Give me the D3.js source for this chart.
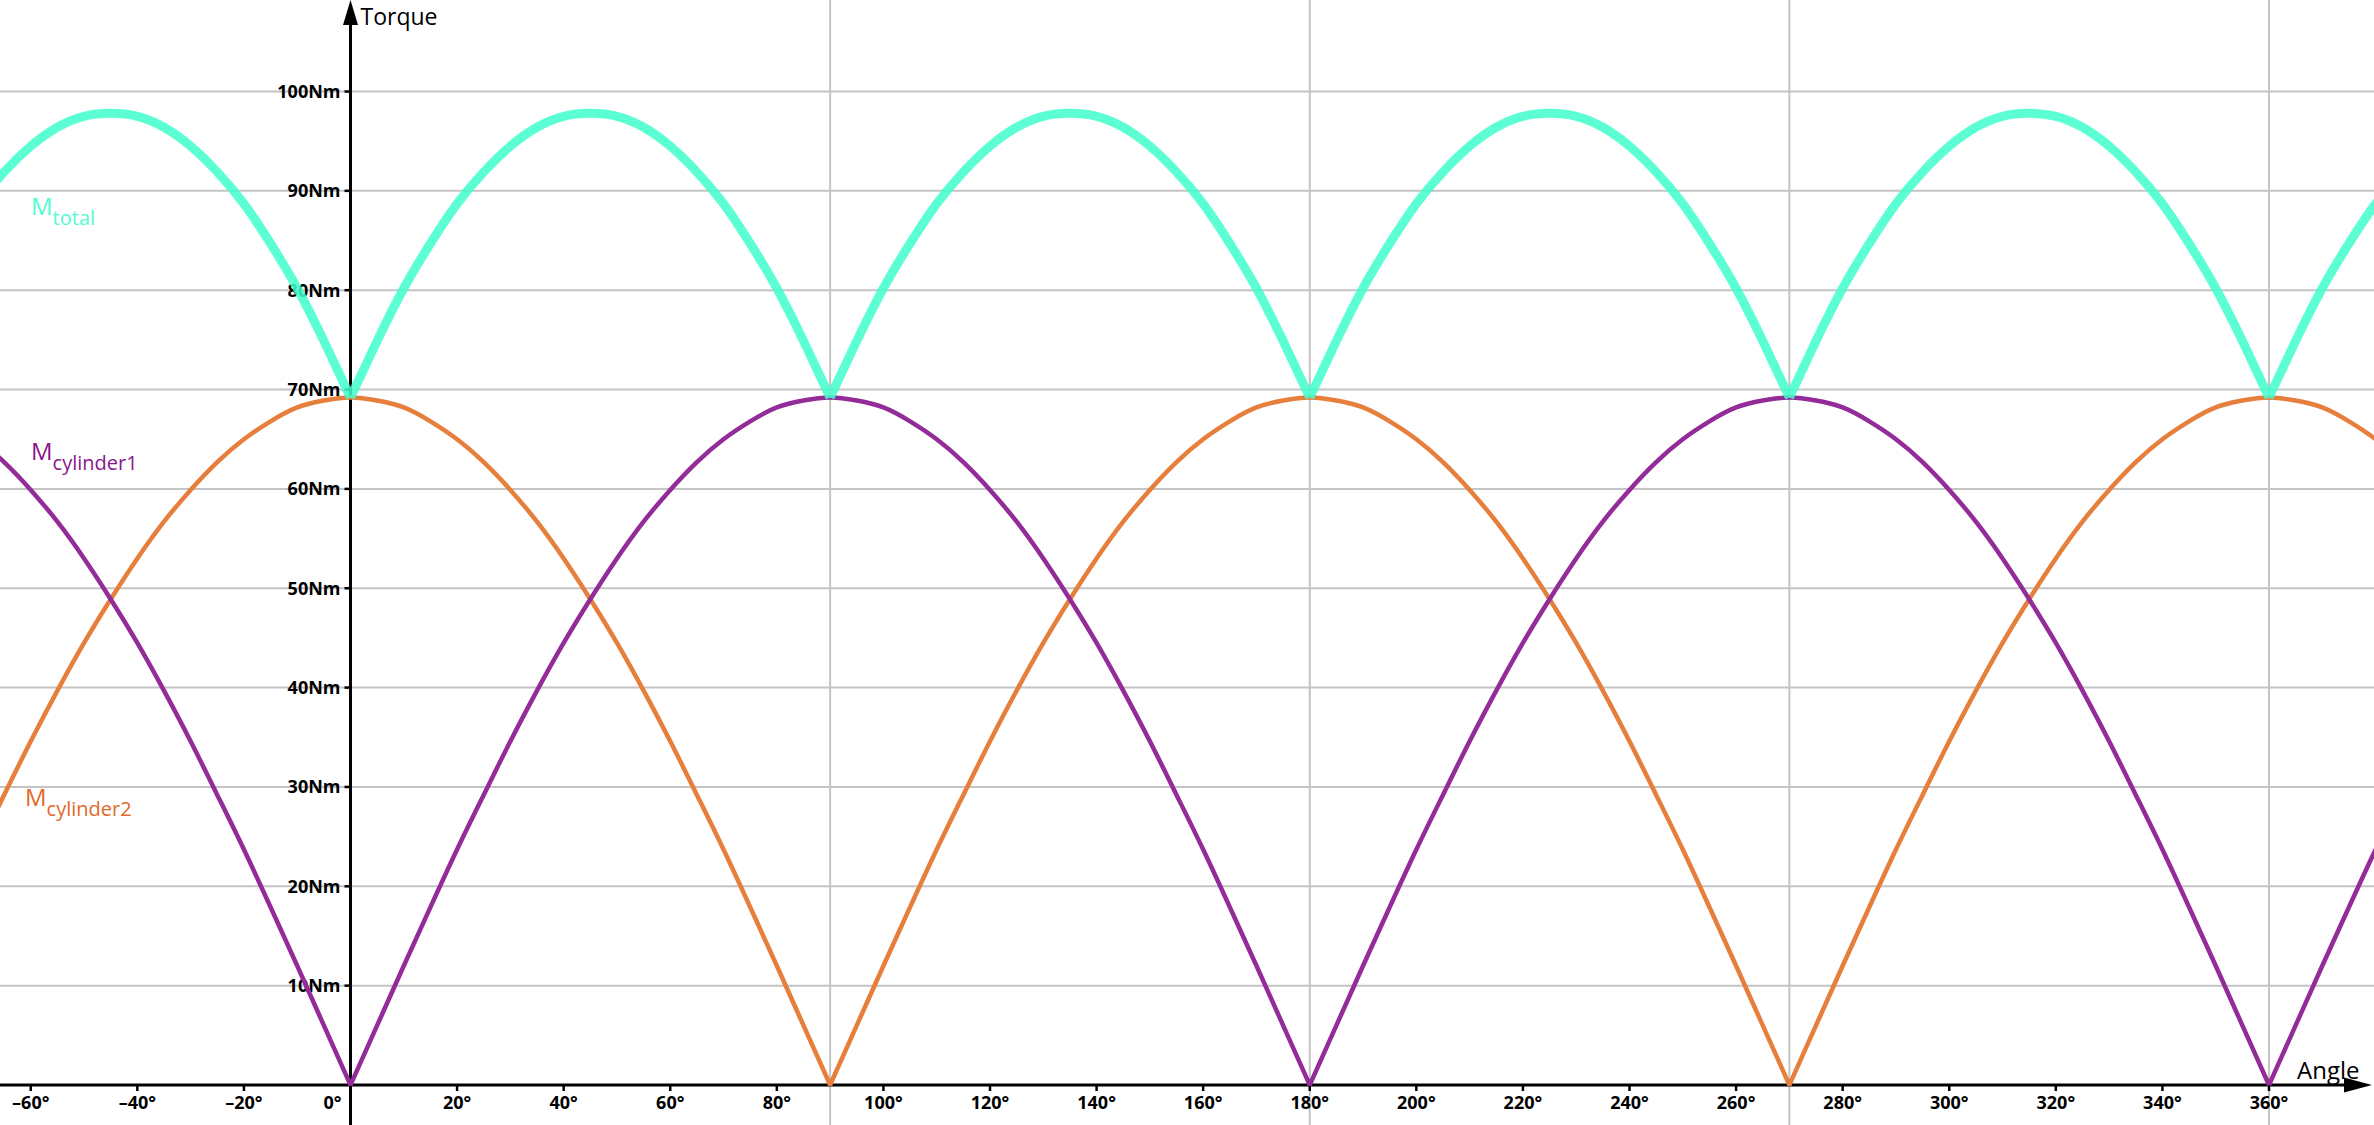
<!DOCTYPE html>
<html>
<head>
<meta charset="utf-8">
<script src="https://cdn.jsdelivr.net/npm/d3@7"></script>
<style>
  html, body { margin: 0; padding: 0; background: #fff; }
  svg { display: block; }
  text { font-family: "Open Sans", "Noto Sans", sans-serif; }
</style>
</head>
<body>
<svg id="chart" width="2374" height="1125"></svg>
<script>
// ---- data (angle in degrees, torque in Nm) ----
const angles = [-70,-65,-60,-55,-50,-45,-40,-35,-30,-25,-20,-15,-10,-5,
  0,5,10,15,20,25,30,35,40,45,50,55,60,65,70,75,80,85,
  90,95,100,105,110,115,120,125,130,135,140,145,150,155,160,165,170,175,
  180,185,190,195,200,205,210,215,220,225,230,235,240,245,250,255,260,265,
  270,275,280,285,290,295,300,305,310,315,320,325,330,335,340,345,350,355,
  360,365,370,375,380,385];

const cylinder1 = [65.0,62.7,59.9,56.7,53.0,48.9,44.5,39.7,34.6,29.2,23.7,17.9,12.0,6.0,
  0,6.0,12.0,17.9,23.7,29.2,34.6,39.7,44.5,48.9,53.0,56.7,59.9,62.7,65.0,66.8,68.2,68.9,
  69.2,68.9,68.2,66.8,65.0,62.7,59.9,56.7,53.0,48.9,44.5,39.7,34.6,29.2,23.7,17.9,12.0,6.0,
  0,6.0,12.0,17.9,23.7,29.2,34.6,39.7,44.5,48.9,53.0,56.7,59.9,62.7,65.0,66.8,68.2,68.9,
  69.2,68.9,68.2,66.8,65.0,62.7,59.9,56.7,53.0,48.9,44.5,39.7,34.6,29.2,23.7,17.9,12.0,6.0,
  0,6.0,12.0,17.9,23.7,29.2];

const cylinder2 = [23.7,29.2,34.6,39.7,44.5,48.9,53.0,56.7,59.9,62.7,65.0,66.8,68.2,68.9,
  69.2,68.9,68.2,66.8,65.0,62.7,59.9,56.7,53.0,48.9,44.5,39.7,34.6,29.2,23.7,17.9,12.0,6.0,
  0,6.0,12.0,17.9,23.7,29.2,34.6,39.7,44.5,48.9,53.0,56.7,59.9,62.7,65.0,66.8,68.2,68.9,
  69.2,68.9,68.2,66.8,65.0,62.7,59.9,56.7,53.0,48.9,44.5,39.7,34.6,29.2,23.7,17.9,12.0,6.0,
  0,6.0,12.0,17.9,23.7,29.2,34.6,39.7,44.5,48.9,53.0,56.7,59.9,62.7,65.0,66.8,68.2,68.9,
  69.2,68.9,68.2,66.8,65.0,62.7];

const total = [88.7,91.9,94.5,96.4,97.5,97.8,97.5,96.4,94.5,91.9,88.7,84.7,80.2,74.9,
  69.2,74.9,80.2,84.7,88.7,91.9,94.5,96.4,97.5,97.8,97.5,96.4,94.5,91.9,88.7,84.7,80.2,74.9,
  69.2,74.9,80.2,84.7,88.7,91.9,94.5,96.4,97.5,97.8,97.5,96.4,94.5,91.9,88.7,84.7,80.2,74.9,
  69.2,74.9,80.2,84.7,88.7,91.9,94.5,96.4,97.5,97.8,97.5,96.4,94.5,91.9,88.7,84.7,80.2,74.9,
  69.2,74.9,80.2,84.7,88.7,91.9,94.5,96.4,97.5,97.8,97.5,96.4,94.5,91.9,88.7,84.7,80.2,74.9,
  69.2,74.9,80.2,84.7,88.7,91.9];

const xTicks = [-60,-40,-20,0,20,40,60,80,100,120,140,160,180,200,220,240,260,280,300,320,340,360];
const xGrid = [90,180,270,360];
const yTicks = [10,20,30,40,50,60,70,80,90,100];

const seriesNames = ["cylinder2", "cylinder1", "total"];
const seriesLabels = ["cylinder2", "cylinder1", "total"];

// ---- layout ----
const W = 2374, H = 1125;
const svg = d3.select("#chart");

const x = d3.scaleLinear().domain([0, 360]).range([350.5, 2269]);
const y = d3.scaleLinear().domain([0, 100]).range([1085, 91.5]);

const colors = {
  total: { line: "#40ffcc", text: "#52fcd0", width: 9, opacity: 0.85 },
  cylinder1: { line: "#932b98", text: "#8a168a", width: 4.5, opacity: 1 },
  cylinder2: { line: "#e67e3c", text: "#e2692a", width: 4.5, opacity: 1 }
};

// grid
const grid = svg.append("g");
grid.selectAll("line.h").data(yTicks).join("line")
  .attr("x1", 0).attr("x2", W)
  .attr("y1", d => y(d)).attr("y2", d => y(d))
  .attr("stroke", "#c4c4c4").attr("stroke-width", 2);
grid.selectAll("line.v").data(xGrid).join("line")
  .attr("x1", d => x(d)).attr("x2", d => x(d))
  .attr("y1", 0).attr("y2", H)
  .attr("stroke", "#c4c4c4").attr("stroke-width", 2);

// axes
const ax = svg.append("g");
const x0 = x(0), y0 = y(0);
ax.append("line").attr("x1", 0).attr("x2", W - 20).attr("y1", y0).attr("y2", y0)
  .attr("stroke", "#000").attr("stroke-width", 3);
ax.append("path").attr("d", `M${W - 2},${y0} L${W - 30},${y0 - 7.5} L${W - 30},${y0 + 7.5} Z`).attr("fill", "#000");
ax.append("line").attr("x1", x0).attr("x2", x0).attr("y1", H).attr("y2", 20)
  .attr("stroke", "#000").attr("stroke-width", 3);
ax.append("path").attr("d", `M${x0},0 L${x0 - 7.5},25 L${x0 + 7.5},25 Z`).attr("fill", "#000");

// x ticks
ax.selectAll("line.xt").data(xTicks).join("line")
  .attr("x1", d => x(d)).attr("x2", d => x(d))
  .attr("y1", y0).attr("y2", y0 + 6)
  .attr("stroke", "#000").attr("stroke-width", 2.5);
ax.selectAll("text.xl").data(xTicks).join("text")
  .attr("x", d => d === 0 ? x(d) - 18 : x(d))
  .attr("y", 1109)
  .attr("text-anchor", "middle")
  .attr("font-size", 18).attr("font-weight", "bold").attr("fill", "#000")
  .text(d => (d < 0 ? "\u2013" + Math.abs(d) : d) + "\u00b0");

// y ticks
ax.selectAll("line.yt").data(yTicks).join("line")
  .attr("x1", x0 - 6).attr("x2", x0)
  .attr("y1", d => y(d)).attr("y2", d => y(d))
  .attr("stroke", "#000").attr("stroke-width", 2.5);
ax.selectAll("text.yl").data(yTicks).join("text")
  .attr("x", x0 - 10)
  .attr("y", d => y(d) + 6.5)
  .attr("text-anchor", "end")
  .attr("font-size", 18).attr("font-weight", "bold").attr("fill", "#000")
  .text(d => d + "Nm");

// axis titles
svg.append("text").attr("x", x0 + 10).attr("y", 25).attr("font-size", 23).attr("fill", "#000").text("Torque");
svg.append("text").attr("x", 2297).attr("y", 1079).attr("font-size", 24).attr("fill", "#000").text("Angle");

// curves: smooth between cusps (local minima), sharp at the cusps
const dataBy = { total, cylinder1, cylinder2 };
function segments(vals) {
  const pts = vals.map((v, i) => [angles[i], v]);
  const segs = [];
  let cur = [pts[0]];
  for (let i = 1; i < pts.length; i++) {
    cur.push(pts[i]);
    const isCusp = i < pts.length - 1 && vals[i] < vals[i - 1] && vals[i] < vals[i + 1];
    if (isCusp) { segs.push(cur); cur = [pts[i]]; }
  }
  segs.push(cur);
  return segs;
}
const line = d3.line().x(d => x(d[0])).y(d => y(d[1])).curve(d3.curveNatural);
const curves = svg.append("g");
seriesNames.forEach(name => {
  const d = segments(dataBy[name]).map(s => line(s)).join("");
  curves.append("path")
    .attr("d", d)
    .attr("fill", "none")
    .attr("stroke", colors[name].line)
    .attr("stroke-width", colors[name].width)
    .attr("stroke-opacity", colors[name].opacity)
    .attr("stroke-linejoin", "round");
});

// labels
const labelPos = {
  total: { x: 31, y: 215 },
  cylinder1: { x: 31, y: 460 },
  cylinder2: { x: 25, y: 806 }
};
seriesNames.forEach((name, i) => {
  const t = svg.append("text")
    .attr("x", labelPos[name].x).attr("y", labelPos[name].y)
    .attr("fill", colors[name].text);
  t.append("tspan").attr("font-size", 24).text("M");
  t.append("tspan").attr("font-size", 20).attr("dy", 10).text(seriesLabels[i]);
});
</script>
</body>
</html>
